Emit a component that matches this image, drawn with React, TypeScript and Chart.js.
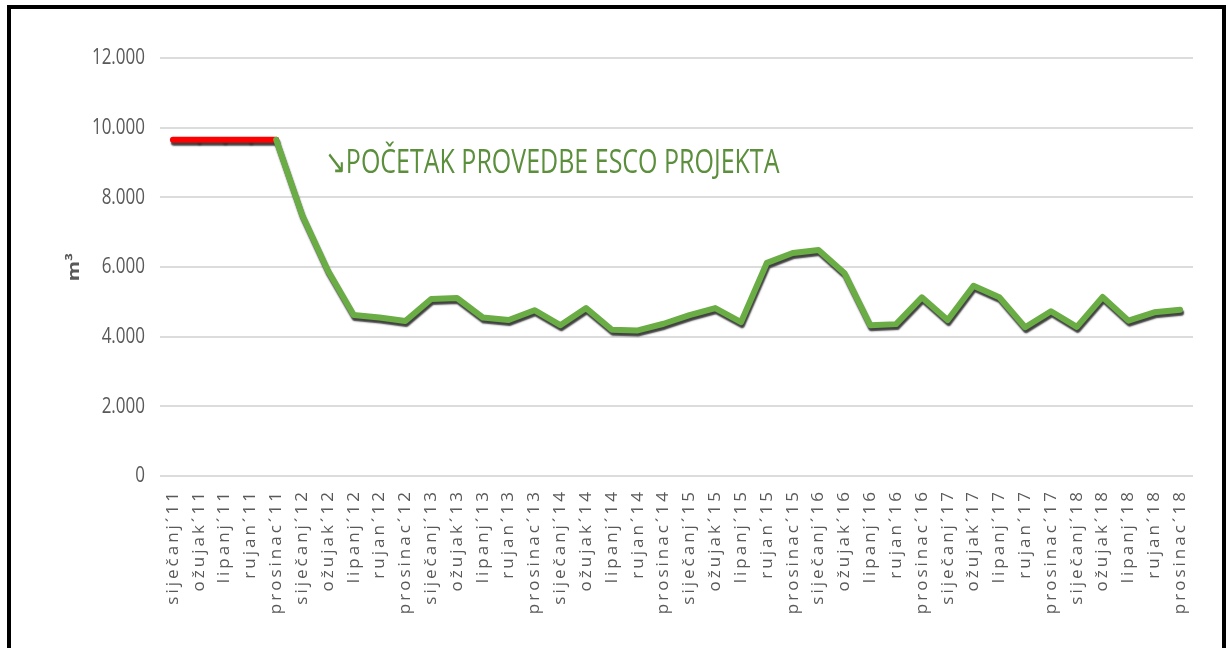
import React, { useEffect, useRef } from 'react';
import { Chart, registerables, CategoryScale, LinearScale } from 'chart.js';

Chart.register(...registerables);

// ---- data ----
const MONTHS = ['siječanj', 'ožujak', 'lipanj', 'rujan', 'prosinac'];
const YEARS = ['11', '12', '13', '14', '15', '16', '17', '18'];
const LABELS: string[] = YEARS.flatMap((y) => MONTHS.map((m) => `${m}´${y}`));

// reference period (siječanj ´11 – prosinac ´11)
const BASELINE_VALUES = [9650, 9650, 9650, 9650, 9650];
// markers inside the reference period
const MARKER_VALUES = [null, 9650, 9650, 9650, null];
// consumption from prosinac ´11 to prosinac ´18
const ESCO_VALUES = [
  9650, 7500, 5900, 4620, 4550, 4450, 5080, 5110, 4550, 4480,
  4760, 4330, 4820, 4200, 4180, 4370, 4620, 4820, 4420, 6120,
  6400, 6490, 5830, 4330, 4360, 5130, 4480, 5460, 5130, 4270,
  4730, 4280, 5140, 4460, 4700, 4770,
];
const Y_MIN = 0;
const Y_MAX = 12000;
const Y_STEP = 2000;
const Y_TITLE = 'm³';
const ANNOTATION = '↘POČETAK PROVEDBE ESCO PROJEKTA';

const FONT = '"Open Sans", "Noto Sans", sans-serif';

// draw text with a stretch around its anchor point (tall, narrow lettering)
function withStretch(ctx: any, sx: number, sy: number, fn: () => void) {
  const orig = ctx.fillText;
  ctx.fillText = function (text: string, x: number, y: number, maxW?: number) {
    this.save();
    this.translate(x, y);
    this.scale(sx, sy);
    if (maxW === undefined) orig.call(this, text, 0, 0);
    else orig.call(this, text, 0, 0, maxW);
    this.restore();
  };
  try {
    fn();
  } finally {
    delete ctx.fillText;
  }
}

class SpacedCategoryScale extends (CategoryScale as any) {
  static id = 'spacedCategory';
  static defaults = { ...(CategoryScale as any).defaults };
  drawLabels(chartArea: any) {
    const ctx: any = (this as any).ctx;
    ctx.save();
    ctx.letterSpacing = '3px';
    super.drawLabels(chartArea);
    ctx.restore();
  }
}

class TallLinearScale extends (LinearScale as any) {
  static id = 'tallLinear';
  static defaults = { ...(LinearScale as any).defaults };
  drawLabels(chartArea: any) {
    const ctx: any = (this as any).ctx;
    withStretch(ctx, 1, 1.3, () => super.drawLabels(chartArea));
  }
  drawTitle() {
    const ctx: any = (this as any).ctx;
    withStretch(ctx, 1.3, 1, () => super.drawTitle());
  }
}
Chart.register(SpacedCategoryScale as any, TallLinearScale as any);

const shadowPlugin = {
  id: 'lineShadow',
  beforeDatasetDraw(chart: any) {
    const ctx = chart.ctx;
    ctx.save();
    ctx.shadowColor = 'rgba(55,55,55,0.95)';
    ctx.shadowOffsetX = 1;
    ctx.shadowOffsetY = 3;
    ctx.shadowBlur = 1.5;
  },
  afterDatasetDraw(chart: any) {
    chart.ctx.restore();
  },
};

const annotationPlugin = {
  id: 'escoAnnotation',
  afterDatasetsDraw(chart: any) {
    const { ctx, scales } = chart;
    const x = scales.x.getPixelForValue(6) - 3;
    const y = scales.y.getPixelForValue(8700);
    ctx.save();
    ctx.translate(x, y);
    ctx.scale(1, 1.3);
    ctx.font = `25px ${FONT}`;
    ctx.fillStyle = '#5b8f3b';
    ctx.textBaseline = 'alphabetic';
    ctx.textAlign = 'left';
    ctx.fillText(ANNOTATION, 0, 0);
    ctx.restore();
  },
};

function pad(values: (number | null)[], total: number, atStart: boolean) {
  const fill = new Array(total - values.length).fill(null);
  return atStart ? fill.concat(values) : values.concat(fill);
}

export default function App() {
  const canvasRef = useRef<HTMLCanvasElement | null>(null);

  useEffect(() => {
    if (!canvasRef.current) return;
    const n = LABELS.length;
    const chart = new Chart(canvasRef.current, {
      type: 'line',
      data: {
        labels: LABELS,
        datasets: [
          {
            label: 'ESCO',
            data: pad(ESCO_VALUES, n, true),
            borderColor: '#6aad45',
            borderWidth: 6,
            borderCapStyle: 'round',
            borderJoinStyle: 'round',
            pointRadius: 0,
            tension: 0,
            spanGaps: false,
            order: 0,
          },
          {
            label: 'Referentno',
            data: pad(BASELINE_VALUES, n, false),
            borderColor: '#ff0000',
            borderWidth: 6,
            borderCapStyle: 'round',
            borderJoinStyle: 'round',
            pointRadius: 0,
            tension: 0,
            order: 1,
          },
          {
            label: 'markers',
            data: pad(MARKER_VALUES, n, false),
            showLine: false,
            pointRadius: 2.5,
            pointBackgroundColor: '#111',
            pointBorderColor: '#111',
            pointBorderWidth: 0,
            order: 2,
          },
        ],
      } as any,
      options: {
        responsive: false,
        animation: false,
        events: [],
        layout: { padding: { left: 60, right: 35, top: 58, bottom: 12 } },
        plugins: {
          legend: { display: false },
          tooltip: { enabled: false },
        },
        scales: {
          x: {
            type: 'spacedCategory' as any,
            offset: true,
            grid: { display: false, drawTicks: false },
            border: { display: false },
            ticks: {
              autoSkip: false,
              maxRotation: 90,
              minRotation: 90,
              padding: 13,
              color: '#595959',
              font: { family: FONT, size: 17 },
            },
            afterFit: (scale: any) => {
              scale.height = 160;
            },
          },
          y: {
            type: 'tallLinear' as any,
            min: Y_MIN,
            max: Y_MAX,
            grid: { color: '#dcdcdc', lineWidth: 2, drawTicks: false },
            border: { display: false },
            ticks: {
              stepSize: Y_STEP,
              padding: 15,
              color: '#595959',
              font: { family: FONT, size: 17 },
              callback: (v: any) => Number(v).toLocaleString('de-DE'),
            },
            title: {
              display: true,
              text: Y_TITLE,
              color: '#595959',
              font: { family: FONT, size: 16, weight: 'bold' },
              padding: { top: 5, bottom: 0 },
            },
            afterFit: (scale: any) => {
              scale.width = 100;
            },
          },
        },
      } as any,
      plugins: [shadowPlugin, annotationPlugin],
    });
    return () => chart.destroy();
  }, []);

  return (
    <div
      style={{
        position: 'fixed',
        left: 0,
        top: 0,
        width: 1228,
        height: 648,
        overflow: 'hidden',
        background: '#fff',
      }}
    >
      <div
        style={{
          position: 'absolute',
          left: 7,
          top: 5,
          width: 1219,
          height: 700,
          border: '4px solid #000',
          boxSizing: 'border-box',
        }}
      />
      <canvas
        ref={canvasRef}
        width={1228}
        height={648}
        style={{ position: 'absolute', left: 0, top: 0, width: 1228, height: 648 }}
      />
    </div>
  );
}
